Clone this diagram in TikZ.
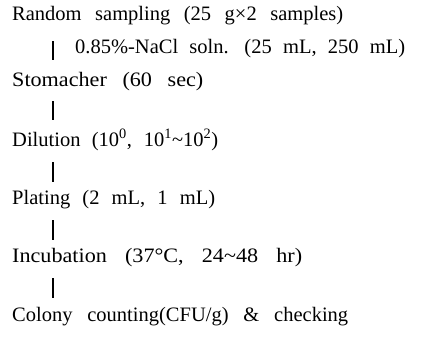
\documentclass[tikz,border=0pt]{standalone}
\usepackage{graphicx}
\usepackage{fontspec}
\setmainfont{Liberation Serif}[WordSpace=3]
\newcommand{\stepline}[2]{\hbox to #1pt{#2}}
\newcommand{\widestep}[2]{\scalebox{1.08}[1]{\hbox to #1pt{#2}}}
\begin{document}
\begin{tikzpicture}[x=1pt,y=-1pt,
  stepbox/.style={anchor=base west,inner sep=0pt,font=\fontsize{20.5}{25}\selectfont},
  barline/.style={line width=1.7pt,black}]
\useasboundingbox (0,0) rectangle (422,346);
\node[stepbox] (s1) at (12,20) {\stepline{331}{Random sampling (25 g×2 samples)}};
\node[stepbox] (add) at (75,53) {\stepline{330}{0.85\%-NaCl soln. (25 mL, 250 mL)}};
\node[stepbox] (s2) at (12,86) {\widestep{177}{Stomacher (60 sec)}};
\node[stepbox] (s3) at (12,146) {\stepline{206}{Dilution (10\textsuperscript{0}, 10\textsuperscript{1}\textasciitilde10\textsuperscript{2})}};
\node[stepbox] (s4) at (12,204) {\stepline{203}{Plating (2 mL, 1 mL)}};
\node[stepbox] (s5) at (12,262) {\widestep{268.5}{Incubation (37°C, 24\textasciitilde48 hr)}};
\node[stepbox] (s6) at (12,321) {\stepline{336}{Colony counting(CFU/g) \& checking}};
\coordinate (b1a) at (53,41); \coordinate (b1b) at (53,60);
\coordinate (b2a) at (53,101); \coordinate (b2b) at (53,120);
\coordinate (b3a) at (53,162); \coordinate (b3b) at (53,182);
\coordinate (b4a) at (53,220); \coordinate (b4b) at (53,240);
\coordinate (b5a) at (53,278); \coordinate (b5b) at (53,298);
\draw[barline] (b1a) -- (b1b);
\draw[barline] (b2a) -- (b2b);
\draw[barline] (b3a) -- (b3b);
\draw[barline] (b4a) -- (b4b);
\draw[barline] (b5a) -- (b5b);
\end{tikzpicture}
\end{document}
